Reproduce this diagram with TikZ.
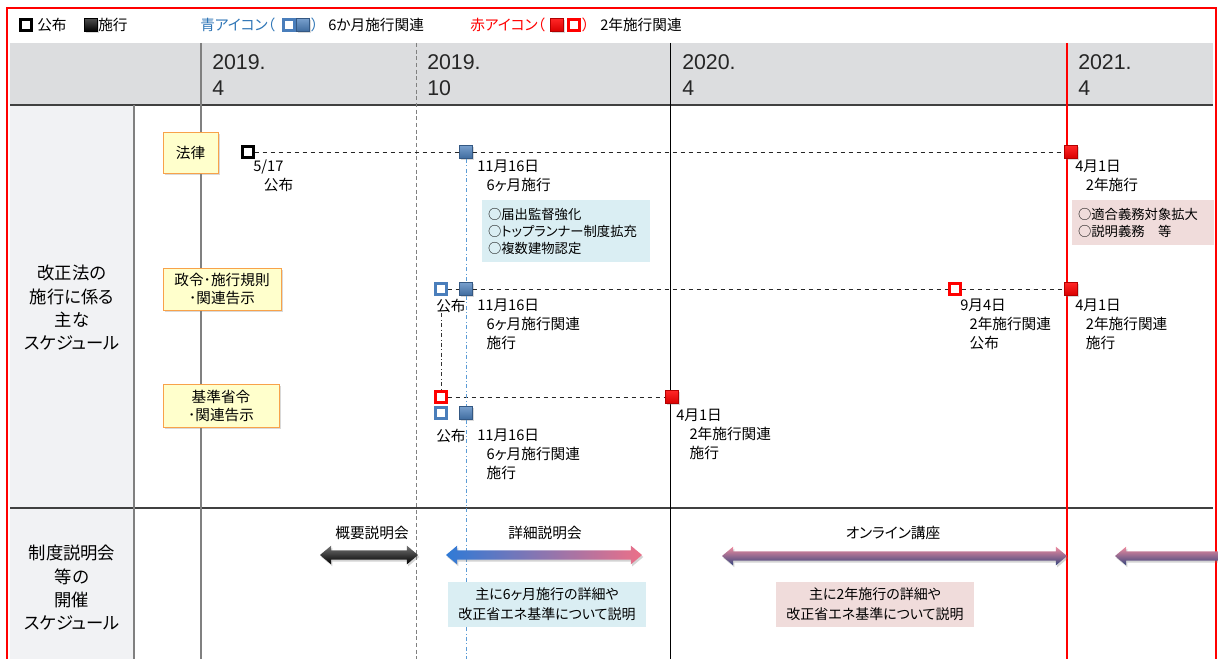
\documentclass[tikz,border=0pt]{standalone}
\usepackage{fontspec}
\setmainfont{Noto Sans CJK JP}[RawFeature=+palt]
\newfontfamily\yrfont{Liberation Sans}
\usepackage{tikz}
\usetikzlibrary{shapes.arrows,shadows}
\usepackage{xcolor}
\definecolor{hdrgray}{HTML}{DCDDDF}
\definecolor{sidegray}{HTML}{F1F2F4}
\definecolor{noteblue}{HTML}{DAEEF3}
\definecolor{notepink}{HTML}{F0DCDB}
\definecolor{mkblue}{HTML}{4A7EBB}
\definecolor{txtblue}{HTML}{2E75B6}
\definecolor{boxyel}{HTML}{FFFFCC}
\definecolor{boxorg}{HTML}{F8A24A}
\definecolor{lineblue}{HTML}{5B9BD5}
\definecolor{arpink}{HTML}{EC7088}
\definecolor{arnavy}{HTML}{34457E}
\definecolor{arblue}{HTML}{2F7AD6}
\newcommand\labfont{\fontsize{11pt}{14pt}\selectfont}
\newcommand\notefont{\fontsize{10pt}{12.75pt}\selectfont}
\newcommand\secfont{\fontsize{13pt}{17.5pt}\selectfont}
\newcommand\tagfont{\fontsize{11pt}{13.5pt}\selectfont}
\newcommand\ind{\hspace*{7pt}}

\begin{document}
\begin{tikzpicture}[x=0.75pt,y=-0.75pt]
  \tikzstyle{lbl}=[anchor=north west,align=left,inner sep=0pt,font=\labfont]
  \tikzstyle{year}=[anchor=north west,align=left,inner sep=0pt,font=\yrfont\fontsize{16pt}{19.5pt}\selectfont,text=black!85]
  \tikzstyle{tag}=[rectangle,draw=boxorg,thin,fill=boxyel,align=center,font=\tagfont,inner sep=0pt,drop shadow={opacity=0.3,shadow xshift=1.5pt,shadow yshift=-1.5pt}]
  \tikzstyle{note}=[rectangle,inner sep=0pt,font=\notefont]
  \tikzstyle{pubk}=[rectangle,draw=black,line width=2pt,fill=white,minimum size=7.8pt,inner sep=0pt]
  \tikzstyle{pubb}=[pubk,draw=mkblue]
  \tikzstyle{pubr}=[pubk,draw=red]
  \tikzstyle{enfb}=[rectangle,draw=mkblue!70!black,line width=0.4pt,top color=mkblue!75,bottom color=mkblue!85!black,minimum size=9.6pt,inner sep=0pt,drop shadow={opacity=0.3,shadow xshift=1pt,shadow yshift=-1pt}]
  \tikzstyle{enfr}=[enfb,draw=red!70!black,top color=red!85,bottom color=red!85!black]
  \tikzstyle{enfk}=[enfb,draw=black,top color=black!70,bottom color=black]
  \tikzstyle{link}=[dashed,thin,black!85]
  \tikzstyle{dbl}=[double arrow,double arrow head extend=3.5pt,double arrow tip angle=80,inner sep=3.3pt,drop shadow={opacity=0.35,shadow xshift=1pt,shadow yshift=-1.5pt}]
  \tikzstyle{onln}=[dbl,minimum height=258.75pt,top color=arpink!80!white,middle color=arpink,bottom color=arnavy]
  \useasboundingbox (0,0) rectangle (1218,659);
  \clip (0,0) rectangle (1218,659);

  % table
  \fill[hdrgray] (10,43) rectangle (1213,105);
  \fill[sidegray] (10,105) rectangle (134,659);
  \draw[black!75,line width=1.2pt] (10,105) -- (1213,105);
  \draw[black!75,line width=1.2pt] (10,508) -- (1213,508);
  \draw[gray,line width=1pt] (134,105) -- (134,659);
  \draw[gray,line width=1pt] (201,43) -- (201,659);
  \draw[gray,densely dashed,thin] (416,43) -- (416,659);
  \draw[black,thin] (670,43) -- (670,659);
  \draw[red,line width=1pt] (1067,43) -- (1067,659);
  \draw[red,line width=1pt] (7,660) -- (7,8) -- (1216,8) -- (1216,660);

  % legend
  \node(lgpub) at (26,25) [pubk]{};
  \node(lgpubt) at (37,25) [anchor=west,inner sep=0pt,font=\labfont]{公布};
  \node(lgenf) at (91,25) [enfk]{};
  \node(lgenft) at (98,25) [anchor=west,inner sep=0pt,font=\labfont]{施行};
  \node(lgbl) at (200,25) [anchor=west,inner sep=0pt,font=\labfont,text=txtblue]{青アイコン（};
  \node(lgblpub) at (289,25) [pubb]{};
  \node(lgblenf) at (303,25) [enfb]{};
  \node(lgblr) at (311,25) [anchor=west,inner sep=0pt,font=\labfont,text=txtblue]{）};
  \node(lgblt) at (328,25) [anchor=west,inner sep=0pt,font=\labfont]{6か月施行関連};
  \node(lgrd) at (470,25) [anchor=west,inner sep=0pt,font=\labfont,text=red]{赤アイコン（};
  \node(lgrdenf) at (557,25) [enfr]{};
  \node(lgrdpub) at (574,25) [pubr]{};
  \node(lgrdr) at (582,25) [anchor=west,inner sep=0pt,font=\labfont,text=red]{）};
  \node(lgrdt) at (600,25) [anchor=west,inner sep=0pt,font=\labfont]{2年施行関連};

  % header
  \node(y19a) at (212,54) [year]{2019.\\4};
  \node(y19b) at (427,54) [year]{2019.\\10};
  \node(y20a) at (682,54) [year]{2020.\\4};
  \node(y21a) at (1078,54) [year]{2021.\\4};
  \node(sec1) at (72,308) [align=center,font=\secfont]{改正法の\\施行に係る\\主な\\スケジュール};
  \node(sec2) at (72,588) [align=center,font=\secfont]{制度説明会\\等の\\開催\\スケジュール};

  % rows
  \node(law) at (190.5,152.5) [tag,minimum width=41.25pt,minimum height=30.75pt]{法律};
  \node(ord) at (222,289) [tag,minimum width=88.5pt,minimum height=31.5pt]{政令･施行規則\\･関連告示};
  \node(std) at (221,405.5) [tag,minimum width=87pt,minimum height=32.25pt]{基準省令\\･関連告示};

  \node(l1pub) at (248,152) [pubk]{};
  \node(l1six) at (466,152) [enfb]{};
  \node(l1two) at (1071,152) [enfr]{};
  \node(l2pub) at (441,289) [pubb]{};
  \node(l2six) at (466,289) [enfb]{};
  \node(l2tpub) at (955,289) [pubr]{};
  \node(l2two) at (1071,289) [enfr]{};
  \node(l3tpub) at (441,397) [pubr]{};
  \node(l3two) at (672,397) [enfr]{};
  \node(l3pub) at (441,413) [pubb]{};
  \node(l3six) at (466,413) [enfb]{};
  \coordinate(sixend) at (466,659);

  \draw[link](l1pub)--(l1six);
  \draw[link](l1six)--(l1two);
  \draw[link](l2pub)--(l2six);
  \draw[link](l2six)--(l2tpub);
  \draw[link](l2tpub)--(l2two);
  \draw[link](l3tpub)--(l3two);
  \draw[lineblue,thin,dash dot](l1six.south)--(l2six.north);
  \draw[lineblue,thin,dash dot](l2six.south)--(l3six.north);
  \draw[lineblue,thin,dash dot](l3six.south)--(sixend);

  \node(l1pubt) at (253,160) [lbl]{5/17\\\hspace*{8pt}公布};
  \node(l1sixt) at (477,160) [lbl]{11月16日\\\ind 6ヶ月施行};
  \node(l1twot) at (1075,160) [lbl]{4月1日\\\hspace*{8pt}2年施行};
  \node(l2pubt) at (436,299) [lbl]{公布};
  \node(l2sixt) at (477,299) [lbl]{11月16日\\\ind 6ヶ月施行関連\\\ind 施行};
  \node(l2tpubt) at (960,299) [lbl]{9月4日\\\ind 2年施行関連\\\ind 公布};
  \node(l2twot) at (1075,299) [lbl]{4月1日\\\hspace*{8pt}2年施行関連\\\hspace*{8pt}施行};
  \node(l3pubt) at (436,429) [lbl]{公布};
  \node(l3sixt) at (477,429) [lbl]{11月16日\\\ind 6ヶ月施行関連\\\ind 施行};
  \node(l3twot) at (676,409) [lbl]{4月1日\\\hspace*{10pt}2年施行関連\\\hspace*{10pt}施行};
  \draw[black!80,thin,dash dot](l2pub |- l2pubt.south)--(l3tpub.north);

  \node(lawnote) at (566,231) [note,fill=noteblue,minimum width=126pt,minimum height=46.5pt,text width=117pt,align=left]{○届出監督強化\\○トップランナー制度拡充\\○複数建物認定};
  \node(twonote) at (1143,222.5) [note,fill=notepink,minimum width=106.5pt,minimum height=33.75pt,text width=97.5pt,align=left]{○適合義務対象拡大\\○説明義務\hspace{1em}等};

  % seminars
  \node(ovw) at (369,555) [dbl,minimum height=73.5pt,top color=black!55,bottom color=black]{};
  \node(dtl) at (544,555) [dbl,minimum height=147pt,left color=arblue,right color=arpink]{};
  \node(onl) at (894.5,556) [onln]{};
  \node(onl2) at (1287.5,556) [onln]{};
  \node(ovwt) at (372,533) [font=\tagfont]{概要説明会};
  \node(dtlt) at (545,533) [font=\tagfont]{詳細説明会};
  \node(onlt) at (893,533) [font=\tagfont]{オンライン講座};
  \node(sixnote) at (547,604.5) [note,fill=noteblue,minimum width=148.5pt,minimum height=33.75pt,align=center,font=\fontsize{10.5pt}{15pt}\selectfont]{主に6ヶ月施行の詳細や\\改正省エネ基準について説明};
  \node(twonote2) at (875,604.5) [note,fill=notepink,minimum width=148.5pt,minimum height=33.75pt,align=center,font=\fontsize{10.5pt}{15pt}\selectfont]{主に2年施行の詳細や\\改正省エネ基準について説明};
\end{tikzpicture}
\end{document}
